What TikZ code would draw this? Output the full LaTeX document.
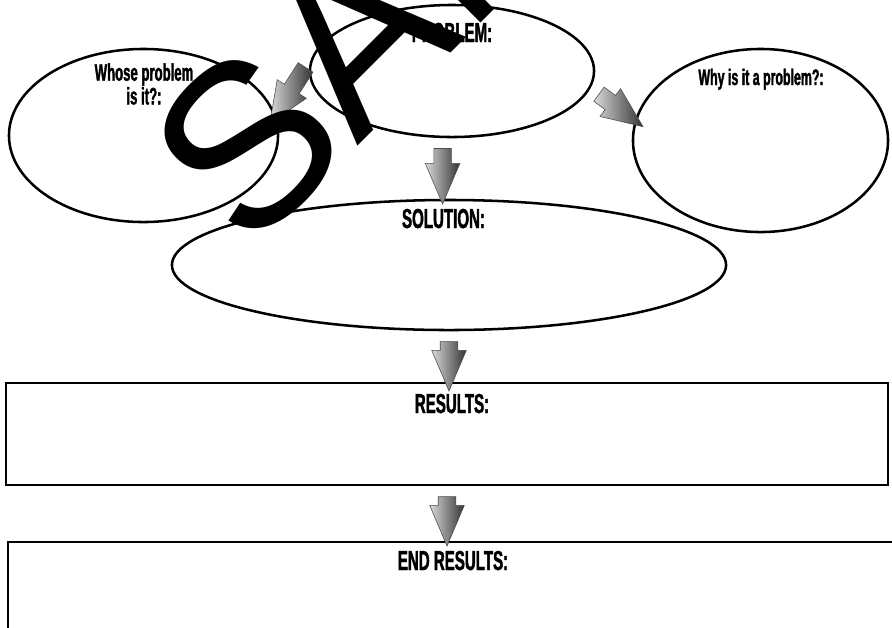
\documentclass[tikz,border=0pt]{standalone}
\usepackage{fontspec}
\usetikzlibrary{shapes.geometric,shapes.arrows,calc}
\newfontfamily\impactfont{Liberation Sans}[FakeStretch=0.55,FakeBold=1.5]
\newfontfamily\wmfont{Liberation Sans}
\newcommand{\fatarrow}[3]{%
  \path let \p1=(#2), \p2=(#3) in
    node[fat arrow, minimum height={veclen(\x2-\x1,\y2-\y1)},
      rotate={atan2(\y2-\y1,\x2-\x1)}] (#1) at ($(#2)!0.5!(#3)$) {};
}

\begin{document}
\begin{tikzpicture}[x=0.025cm, y=-0.025cm,
  bubble/.style={ellipse, draw, line width=1.8pt, inner sep=0pt},
  panel/.style={rectangle, draw, line width=1.8pt, inner sep=0pt},
  headtxt/.style={font=\impactfont\bfseries\fontsize{19.5}{22}\selectfont, anchor=base},
  subtxt/.style={font=\impactfont\bfseries\fontsize{17}{15.6}\selectfont, align=center},
  whytxt/.style={font=\impactfont\bfseries\fontsize{16}{18}\selectfont, anchor=base},
  fat arrow/.style={single arrow, draw=black!70, line width=0.4pt,
    left color=gray!30, right color=black!80, minimum width=0.85cm,
    single arrow head extend=0.2125cm, single arrow tip angle=46,
    inner xsep=0pt, inner ysep=0.2125cm, outer sep=0pt}]
\useasboundingbox (0,0) rectangle (892,627);
\clip (0,0) rectangle (892,627);

\node[bubble, minimum width=6.725cm, minimum height=4.325cm] (whose) at (143.5,135.5) {};
\node[bubble, minimum width=7.1cm, minimum height=3.3cm] (prob) at (452,71) {};
\node[bubble, minimum width=6.375cm, minimum height=4.575cm] (why) at (760.5,140.5) {};
\node[bubble, minimum width=13.85cm, minimum height=3.25cm] (sol) at (449,265) {};
\node[panel, minimum width=22.05cm, minimum height=2.55cm] (res) at (447,434) {};
\node[panel, minimum width=22.25cm, minimum height=3.95cm] (endres) at (453,621) {};

\node[headtxt] (probtxt) at (452,42) {PROBLEM:};
\node[subtxt] (whosetxt) at (144,84) {Whose problem\\is it?:};
\node[whytxt] (whytxt) at (761,85) {Why is it a problem?:};
\node[headtxt] (soltxt) at (443.5,228) {SOLUTION:};
\node[headtxt] (restxt) at (452,413) {RESULTS:};
\node[headtxt] (endtxt) at (453,570) {END RESULTS:};

\coordinate (p1) at ($(prob.262 |- sol.north)+(0,-5)$);
\coordinate (s1) at ($(sol.south |- res.north)+(0,-1)$);
\coordinate (r1) at ($(res.south |- endres.north)+(0,-5)$);
\fatarrow{a1}{prob.175}{whose.9}
\fatarrow{a2}{prob.353}{why.171}
\fatarrow{a3}{prob.262}{p1}
\fatarrow{a4}{sol.south}{s1}
\fatarrow{a5}{res.south}{r1}

\node[font=\wmfont\fontsize{165}{165}\selectfont, rotate=45, anchor=base west,
  inner sep=0pt] (wm) at (248,256) {SAMPLE};
\end{tikzpicture}
\end{document}
